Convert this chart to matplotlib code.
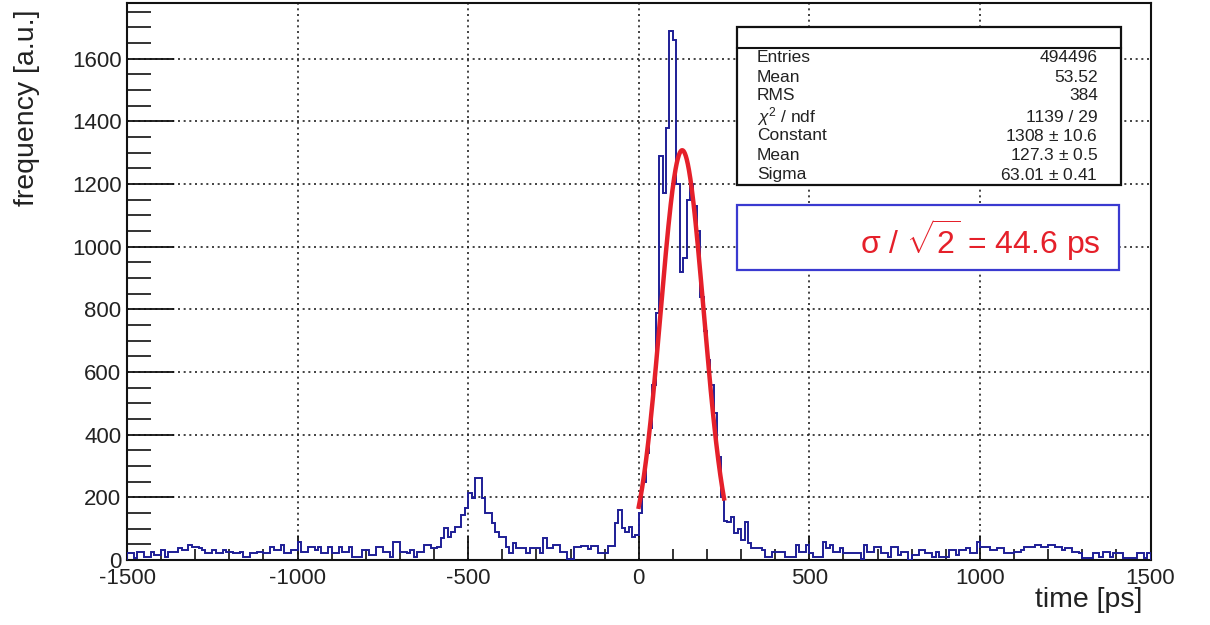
import numpy as np
import matplotlib
matplotlib.use("Agg")
import matplotlib.pyplot as plt
from matplotlib.patches import Rectangle
from matplotlib.lines import Line2D
from matplotlib.ticker import MultipleLocator

plt.rcParams['font.family'] = ['Liberation Sans', 'DejaVu Sans']
plt.rcParams['mathtext.fontset'] = 'custom'
plt.rcParams['mathtext.rm'] = 'Liberation Sans'
plt.rcParams['mathtext.it'] = 'Liberation Sans:italic'
plt.rcParams['axes.unicode_minus'] = False

# ---------------- data ----------------
x_min, x_max, bin_width = -1500, 1500, 10
counts = [
    21, 21, 5, 27, 27, 11, 11, 27, 16, 16,          # -1500
    32, 11, 27, 27, 27, 37, 32, 32, 48, 43,          # -1400
    43, 37, 32, 21, 21, 32, 21, 21, 32, 27,          # -1300
    27, 21, 21, 27, 11, 11, 21, 21, 27, 27,          # -1200
    21, 21, 43, 32, 32, 48, 21, 21, 32, 32,          # -1100
    59, 27, 27, 43, 43, 32, 43, 21, 21, 43,          # -1000
    21, 21, 43, 27, 27, 43, 11, 11, 11, 32,          # -900
    32, 16, 16, 43, 43, 27, 27, 11, 59, 59,          # -800
    27, 27, 21, 32, 10, 25, 25, 48, 48, 37,          # -700
    37, 42, 69, 101, 74, 89, 106, 106, 143, 166,     # -600
    213, 197, 261, 261, 197, 149, 149, 117, 89, 74,  # -500
    74, 42, 21, 53, 37, 37, 37, 21, 37, 37,          # -400
    37, 21, 69, 37, 37, 48, 48, 25, 25, 3,           # -300
    3, 42, 42, 45, 45, 35, 45, 45, 21, 21,           # -200
    21, 45, 45, 117, 159, 101, 90, 106, 74, 80,      # -100
    150, 250, 340, 420, 560, 790, 1290, 1170, 1380, 1690,  # 0
    1660, 1200, 920, 965, 1150, 1200, 1130, 1050, 840, 730,  # 100
    640, 560, 470, 330, 200, 125, 120, 138, 85, 100,  # 200
    64, 122, 53, 37, 37, 37, 32, 11, 11, 27,         # 300
    27, 27, 27, 10, 10, 10, 48, 27, 27, 48,          # 400
    21, 10, 10, 10, 59, 37, 48, 27, 27, 37,          # 500
    21, 21, 21, 21, 21, 3, 48, 27, 27, 43,           # 600
    43, 21, 21, 10, 43, 43, 16, 27, 27, 0,           # 700
    16, 16, 32, 32, 21, 21, 11, 27, 11, 11,          # 800
    11, 32, 32, 16, 32, 32, 37, 21, 21, 59,          # 900
    43, 43, 43, 32, 32, 37, 37, 21, 21, 21,          # 1000
    27, 27, 32, 43, 43, 43, 48, 48, 43, 43,          # 1100
    48, 48, 43, 43, 32, 37, 37, 27, 27, 21,          # 1200
    5, 5, 5, 21, 21, 11, 27, 27, 11, 21,             # 1300
    21, 21, 5, 5, 5, 5, 21, 21, 5, 21,               # 1400
]

# Gaussian fit parameters (from stats box)
fit_const, fit_mean, fit_sigma = 1308.0, 127.3, 63.01
fit_range = (0, 250)

stats_labels = ["Entries", "Mean", "RMS", r"$\chi^{2}$ / ndf", "Constant", "Mean", "Sigma"]
stats_values = ["494496", "53.52", "384", "1139 / 29", "1308 $\\pm$ 10.6",
                "127.3 $\\pm$ 0.5", "63.01 $\\pm$ 0.41"]
result_text = "σ / $\\sqrt{2}$ = 44.6 ps"

xlabel = "time [ps]"
ylabel = "frequency [a.u.]"

# ---------------- figure ----------------
W, H = 1210, 625
fig = plt.figure(figsize=(W / 100, H / 100), dpi=100)
fig.patch.set_facecolor('white')

def fx(px):
    return px / W

def fy(py):
    return 1 - py / H

ax = fig.add_axes([fx(127), fy(560), fx(1150.5) - fx(127), fy(3) - fy(560)])

edges = np.arange(x_min, x_max + bin_width, bin_width)
ax.stairs(counts, edges, color='#1e1e96', linewidth=1.4, zorder=3)

xf = np.linspace(fit_range[0], fit_range[1], 300)
yf = fit_const * np.exp(-0.5 * ((xf - fit_mean) / fit_sigma) ** 2)
ax.plot(xf, yf, color='#e5202a', linewidth=3.2, zorder=4)

ax.set_xlim(x_min, x_max)
ax.set_ylim(0, 1778)

ax.xaxis.set_major_locator(MultipleLocator(500))
ax.xaxis.set_minor_locator(MultipleLocator(100))
ax.yaxis.set_major_locator(MultipleLocator(200))
ax.yaxis.set_minor_locator(MultipleLocator(50))

ax.tick_params(axis='both', which='both', direction='in', colors='#111111',
               labelcolor='#222222', labelsize=16, top=False, right=False)
ax.tick_params(axis='y', which='major', length=34, width=1.3, pad=4)
ax.tick_params(axis='y', which='minor', length=17, width=1.2)
ax.tick_params(axis='x', which='major', length=17, width=1.3, pad=6)
ax.tick_params(axis='x', which='minor', length=8, width=1.2)

ax.grid(True, which='major', color='#222222', linestyle=(0, (1.2, 2.2)), linewidth=1.2)
ax.set_axisbelow(True)
for s in ax.spines.values():
    s.set_linewidth(1.5)
    s.set_color('#111111')

# axis titles (ROOT style: aligned to the axis end)
fig.text(fx(1142), fy(600), xlabel, ha='right', va='center', fontsize=20.5, color='#222222')
fig.text(fx(27), fy(10), ylabel, ha='center', va='top', rotation=90, fontsize=20.5, color='#222222')

# stats box
bx0, bx1, by0, by1 = 737, 1121, 27, 185
fig.add_artist(Rectangle((fx(bx0), fy(by1)), fx(bx1) - fx(bx0), fy(by0) - fy(by1),
                         transform=fig.transFigure, facecolor='white', edgecolor='#111111',
                         linewidth=1.6, zorder=10))
fig.add_artist(Line2D([fx(bx0), fx(bx1)], [fy(48), fy(48)], transform=fig.transFigure,
                      color='#111111', linewidth=1.5, zorder=11))
row_y = [57, 77, 96, 117, 136, 155, 175]
for lab, val, yy in zip(stats_labels, stats_values, row_y):
    fig.text(fx(757), fy(yy), lab, ha='left', va='center', fontsize=12.5, color='#222222', zorder=12)
    fig.text(fx(1098), fy(yy), val, ha='right', va='center', fontsize=12.5, color='#222222', zorder=12)

# result box
rx0, rx1, ry0, ry1 = 737, 1119, 205, 270
fig.add_artist(Rectangle((fx(rx0), fy(ry1)), fx(rx1) - fx(rx0), fy(ry0) - fy(ry1),
                         transform=fig.transFigure, facecolor='white', edgecolor='#3a3ad0',
                         linewidth=1.6, zorder=10))
fig.text(fx(1101), fy(240), result_text, ha='right', va='center', fontsize=23,
         color='#e5202a', zorder=12)

fig.savefig("out.png", dpi=100)
